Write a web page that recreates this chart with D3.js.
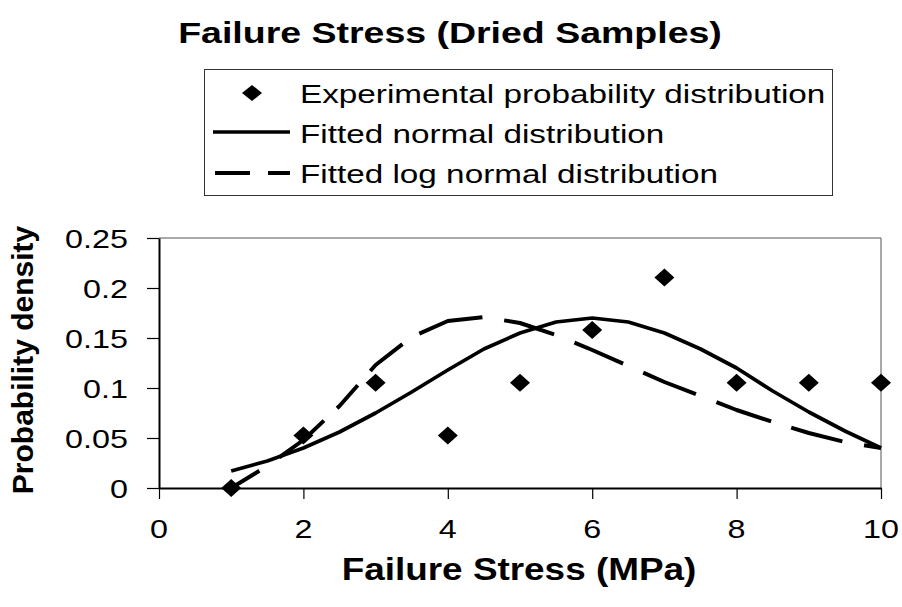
<!DOCTYPE html>
<html>
<head>
<meta charset="utf-8">
<script src="https://cdn.jsdelivr.net/npm/d3@7/dist/d3.min.js"></script>
<style>
  html, body { margin: 0; padding: 0; background: #fff; }
  svg { display: block; }
  text { font-family: "Liberation Sans", Arial, Helvetica, sans-serif; fill: #000; }
</style>
</head>
<body>
<svg id="chart" width="902" height="607"></svg>
<script>
// ---- data ----
const title = "Failure Stress (Dried Samples)";
const xTitle = "Failure Stress (MPa)";
const yTitle = "Probability density";
const seriesNames = ["Experimental probability distribution", "Fitted normal distribution", "Fitted log normal distribution"];

const expX = [1, 2, 3, 4, 5, 6, 7, 8, 9, 10];
const expY = [0, 0.0526, 0.1053, 0.0526, 0.1053, 0.1579, 0.2105, 0.1053, 0.1053, 0.1053];

const fitX = [1, 1.5, 2, 2.5, 3, 3.5, 4, 4.5, 5, 5.5, 6, 6.5, 7, 7.5, 8, 8.5, 9, 9.5, 10];
const normalY = [0.017, 0.027, 0.040, 0.056, 0.075, 0.096, 0.118, 0.139, 0.155, 0.166, 0.170, 0.166, 0.155, 0.139, 0.120, 0.097, 0.076, 0.057, 0.040];
const logNormalY = [0.000, 0.022, 0.048, 0.082, 0.123, 0.151, 0.167, 0.171, 0.165, 0.153, 0.138, 0.122, 0.106, 0.092, 0.078, 0.066, 0.055, 0.046, 0.040];

const xTicks = [0, 2, 4, 6, 8, 10];
const xTickLabels = ["0", "2", "4", "6", "8", "10"];
const yTicks = [0, 0.05, 0.1, 0.15, 0.2, 0.25];
const yTickLabels = ["0", "0.05", "0.1", "0.15", "0.2", "0.25"];

// ---- layout / style ----
const svg = d3.select("#chart");
const plot = { left: 159, right: 881, top: 238, bottom: 488 };
const x = d3.scaleLinear().domain([0, 10]).range([plot.left, plot.right]);
const y = d3.scaleLinear().domain([0, 0.25]).range([plot.bottom, plot.top]);
const dashPattern = "33,24,58,18,31,19,42,20,66,22,52,22,53,22,57,22,58,21,53,22,40,22";

function sText(g, tx, ty, str, size, weight, anchor, sx) {
  return g.append("text")
    .attr("transform", `translate(${tx},${ty}) scale(${sx},1)`)
    .attr("text-anchor", anchor)
    .style("font-size", size + "px")
    .style("font-weight", weight)
    .text(str);
}

function diamondPath(cx, cy, hw, hh) {
  return `M${cx},${cy - hh}L${cx + hw},${cy}L${cx},${cy + hh}L${cx - hw},${cy}Z`;
}

// plot frame (thin top/right)
svg.append("line").attr("x1", plot.left).attr("x2", plot.right).attr("y1", plot.top).attr("y2", plot.top)
  .attr("stroke", "#555").attr("stroke-width", 1);
svg.append("line").attr("x1", plot.right).attr("x2", plot.right).attr("y1", plot.top).attr("y2", plot.bottom)
  .attr("stroke", "#555").attr("stroke-width", 1);

// axes
const yAxis = d3.axisLeft(y).tickValues(yTicks).tickSize(12).tickSizeOuter(0).tickFormat("");
const gy = svg.append("g").attr("transform", `translate(${plot.left},0)`).call(yAxis);
gy.select(".domain").attr("stroke", "#000").attr("stroke-width", 2);
gy.selectAll(".tick line").attr("stroke", "#000").attr("stroke-width", 1.2);

const xAxis = d3.axisBottom(x).tickValues(xTicks).tickSize(11).tickSizeOuter(0).tickFormat("");
const gx = svg.append("g").attr("transform", `translate(0,${plot.bottom})`).call(xAxis);
gx.select(".domain").attr("stroke", "#000").attr("stroke-width", 2);
gx.selectAll(".tick line").attr("stroke", "#000").attr("stroke-width", 1.2);

// tick labels
yTicks.forEach((v, i) => sText(svg, 128, y(v) + 9.5, yTickLabels[i], 26.5, "normal", "end", 1.22));
xTicks.forEach((v, i) => sText(svg, x(v), 538, xTickLabels[i], 26.5, "normal", "middle", 1.22));

// lines
const line = d3.line().x(d => x(d[0])).y(d => y(d[1])).curve(d3.curveLinear);
svg.append("path").datum(fitX.map((v, i) => [v, normalY[i]]))
  .attr("d", line).attr("fill", "none").attr("stroke", "#000").attr("stroke-width", 3.7)
  .attr("stroke-linejoin", "round");
svg.append("path").datum(fitX.map((v, i) => [v, logNormalY[i]]))
  .attr("d", line).attr("fill", "none").attr("stroke", "#000").attr("stroke-width", 4)
  .attr("stroke-dasharray", dashPattern).attr("stroke-linejoin", "round");

// points
svg.append("g").selectAll("path").data(expX.map((v, i) => [v, expY[i]])).join("path")
  .attr("d", d => diamondPath(x(d[0]), y(d[1]), 10, 9)).attr("fill", "#000");

// titles
sText(svg, 450, 43, title, 30, "bold", "middle", 1.25);
sText(svg, 519, 580, xTitle, 31, "bold", "middle", 1.19);
svg.append("text")
  .attr("transform", `translate(33,${(plot.top + plot.bottom) / 2 - 3}) rotate(-90)`)
  .attr("text-anchor", "middle")
  .style("font-size", "30px").style("font-weight", "bold")
  .text(yTitle);

// legend
const lg = svg.append("g");
lg.append("rect").attr("x", 204.5).attr("y", 69.5).attr("width", 628).attr("height", 126)
  .attr("fill", "#fff").attr("stroke", "#333").attr("stroke-width", 1);
lg.append("path").attr("d", diamondPath(252, 93, 10, 8)).attr("fill", "#000");
lg.append("line").attr("x1", 213).attr("x2", 290).attr("y1", 132).attr("y2", 132)
  .attr("stroke", "#000").attr("stroke-width", 3.7);
lg.append("line").attr("x1", 215).attr("x2", 290).attr("y1", 173).attr("y2", 173)
  .attr("stroke", "#000").attr("stroke-width", 4).attr("stroke-dasharray", "35,18");
[103, 143, 183].forEach((by, i) => sText(lg, 300, by, seriesNames[i], 26, "normal", "start", 1.28));
</script>
</body>
</html>
